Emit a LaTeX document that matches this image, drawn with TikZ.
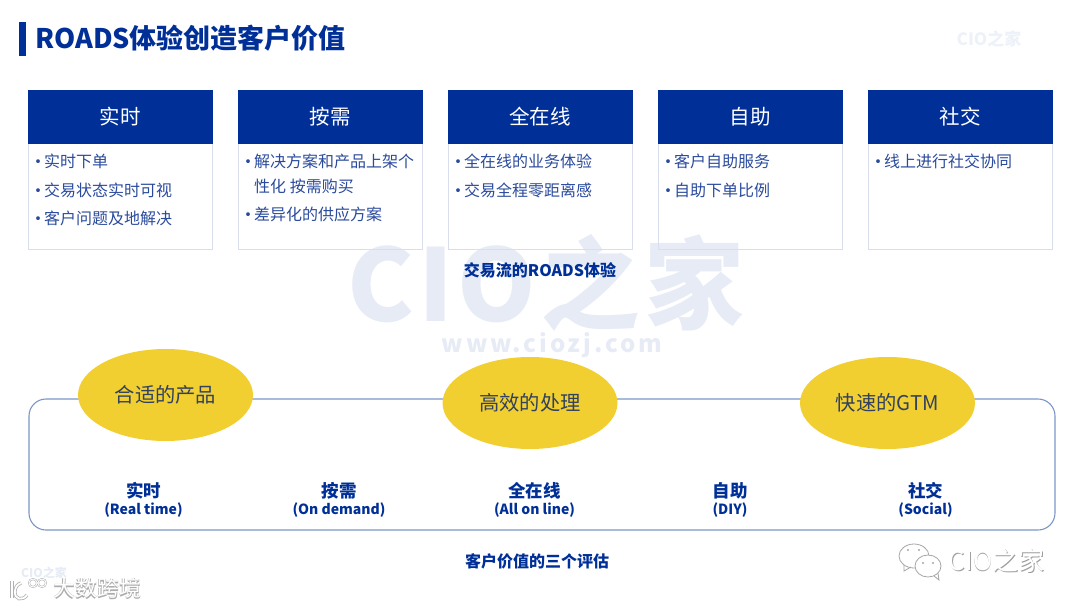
\documentclass[tikz,border=0pt]{standalone}
\usepackage{fontspec}
\usepackage{tikz}
\usetikzlibrary{shapes.geometric}
\setmainfont{Noto Sans CJK SC}
\definecolor{roadsblue}{HTML}{003097}
\definecolor{bodyblue}{HTML}{2A4A9C}
\definecolor{boxgray}{HTML}{D8DEEC}
\definecolor{framelin}{HTML}{7C95C8}
\definecolor{oval}{HTML}{F2CF30}
\definecolor{ovaltext}{HTML}{33415C}
\definecolor{mark}{HTML}{E6EBF5}
\newcommand{\bul}{\makebox[11pt][l]{\hspace{-3.5pt}\raisebox{-0.5pt}{\fontsize{18}{18}\selectfont\textbullet}}}
\tikzset{
    headbox/.style={draw=roadsblue, fill=roadsblue, text=white, font=\fontsize{20.5}{24}\selectfont, minimum width=184pt, minimum height=53pt, inner sep=0pt},
    bodybox/.style={draw=boxgray, line width=0.8pt, minimum width=184pt, minimum height=106pt, inner sep=0pt},
    item/.style={anchor=west, text=bodyblue, inner sep=0pt, font=\fontsize{16}{25}\selectfont, align=left},
    goal/.style={ellipse, fill=oval, text=ovaltext, minimum width=175pt, minimum height=92pt, inner sep=0pt, font=\fontsize{20.3}{24}\selectfont},
    pillar/.style={text=roadsblue, inner sep=0pt, align=center, font=\bfseries\fontsize{14}{17}\selectfont},
    caption/.style={text=roadsblue, inner sep=0pt, font=\bfseries\fontsize{16}{19}\selectfont},
    wmark/.style={text=mark, inner sep=0pt, font=\bfseries},
    shadowtxt/.style={text=gray!75, inner sep=0pt},
    whitetxt/.style={text=white, inner sep=0pt}
}
\begin{document}
\begin{tikzpicture}[x=1pt, y=-1pt]
    \useasboundingbox (0,0) rectangle (1080,608);

    % watermarks
    \node[wmark, font=\bfseries\fontsize{100}{110}\selectfont\addfontfeatures{LetterSpace=4}] (bigmark) at (546,283) {CIO之家};
    \node[wmark, font=\bfseries\fontsize{24}{28}\selectfont\addfontfeatures{LetterSpace=12}] (webmark) at (552,345) {www.ciozj.com};
    \node[wmark, text=mark!70, font=\bfseries\fontsize{17}{20}\selectfont] (topmark) at (989,39) {CIO之家};

    % title
    \fill[roadsblue] (19,22) rectangle (26,56);
    \node[anchor=west, text=roadsblue, inner sep=0pt, font=\bfseries\fontsize{27}{30}\selectfont] (title) at (35,38) {ROADS体验创造客户价值};

    % top columns
    \node[bodybox] (body1) at (120,196.5) {};
    \node[bodybox] (body2) at (330,196.5) {};
    \node[bodybox] (body3) at (540,196.5) {};
    \node[bodybox] (body4) at (750,196.5) {};
    \node[bodybox] (body5) at (960,196.5) {};

    \node[headbox] (head1) at (120,116.5) {实时};
    \node[headbox] (head2) at (330,116.5) {按需};
    \node[headbox] (head3) at (540,116.5) {全在线};
    \node[headbox] (head4) at (750,116.5) {自助};
    \node[headbox] (head5) at (960,116.5) {社交};

    \node[item] (a1) at (33,161.5) {\bul 实时下单};
    \node[item] (a2) at (33,190.5) {\bul 交易状态实时可视};
    \node[item] (a3) at (33,218.5) {\bul 客户问题及地解决};
    \node[item] (b1) at (243,174) {\bul 解决方案和产品上架个\\\hspace*{11pt}性化 按需购买};
    \node[item] (b2) at (243,214.5) {\bul 差异化的供应方案};
    \node[item] (c1) at (453,161.5) {\bul 全在线的业务体验};
    \node[item] (c2) at (453,190.5) {\bul 交易全程零距离感};
    \node[item] (d1) at (663,161.5) {\bul 客户自助服务};
    \node[item] (d2) at (663,190.5) {\bul 自助下单比例};
    \node[item] (e1) at (873,161.5) {\bul 线上进行社交协同};

    \node[caption] (flowcap) at (540,270) {交易流的ROADS体验};

    % frame and goals
    \node[draw=framelin, line width=1.1pt, rounded corners=17pt, minimum width=1026pt, minimum height=131pt, inner sep=0pt] (frame) at (542,464.5) {};
    \node[goal] (goal1) at (165.5,395) {合适的产品};
    \node[goal] (goal2) at (530,403) {高效的处理};
    \node[goal] (goal3) at (887.5,403) {快速的GTM};

    \node[pillar] (p1) at (143.5,499.5) {{\fontsize{17.5}{20}\selectfont 实时}\\(Real time)};
    \node[pillar] (p2) at (339,499.5) {{\fontsize{17.5}{20}\selectfont 按需}\\(On demand)};
    \node[pillar] (p3) at (534.5,499.5) {{\fontsize{17.5}{20}\selectfont 全在线}\\(All on line)};
    \node[pillar] (p4) at (730,499.5) {{\fontsize{17.5}{20}\selectfont 自助}\\(DIY)};
    \node[pillar] (p5) at (925.5,499.5) {{\fontsize{17.5}{20}\selectfont 社交}\\(Social)};

    \node[caption] (valuecap) at (537,561) {客户价值的三个评估};

    % wechat stamp, bottom right
    \draw[gray!70, fill=white, line width=0.8pt] (914,556) ellipse (15 and 12);
    \draw[gray!70, line width=0.8pt] (904,565) -- (904,571) -- (911,567);
    \draw[gray!70, fill=white, line width=0.8pt] (928,566) ellipse (13 and 11);
    \draw[gray!70, line width=0.8pt] (934,576) -- (939,580) -- (938,573);
    \fill[gray!70] (908,550) circle (1.2) (919,550) circle (1.2) (923,563) circle (1.2) (933,563) circle (1.2);
    \node[shadowtxt, font=\fontsize{26}{30}\selectfont] (stampb) at (997.3,561.3) {CIO之家};
    \node[whitetxt, font=\fontsize{26}{30}\selectfont] (stamp) at (996.7,560.7) {CIO之家};

    % stamp, bottom left
    \node[wmark, font=\bfseries\fontsize{12}{14}\selectfont] (lowmark) at (44,573) {CIO之家};
    \draw[gray!60, line width=3.4pt] (12,581) -- (12,598);
    \draw[gray!60, line width=3.4pt] (27,595) .. controls (23,601) and (14,600) .. (15,591) .. controls (15,587) and (18,584) .. (21,583);
    \draw[gray!60, line width=2pt] (33,583) circle (4) (42,583) circle (4);
    \draw[white, line width=1.8pt] (12,581) -- (12,598);
    \draw[white, line width=1.8pt] (27,595) .. controls (23,601) and (14,600) .. (15,591) .. controls (15,587) and (18,584) .. (21,583);
    \draw[white, line width=0.9pt] (33,583) circle (4) (42,583) circle (4);
    \node[text=gray!65, inner sep=0pt, font=\bfseries\fontsize{22}{26}\selectfont] (logob) at (97.9,588.9) {大数跨境};
    \node[whitetxt, font=\fontsize{22}{26}\selectfont] (logo) at (97,588) {大数跨境};
\end{tikzpicture}
\end{document}
